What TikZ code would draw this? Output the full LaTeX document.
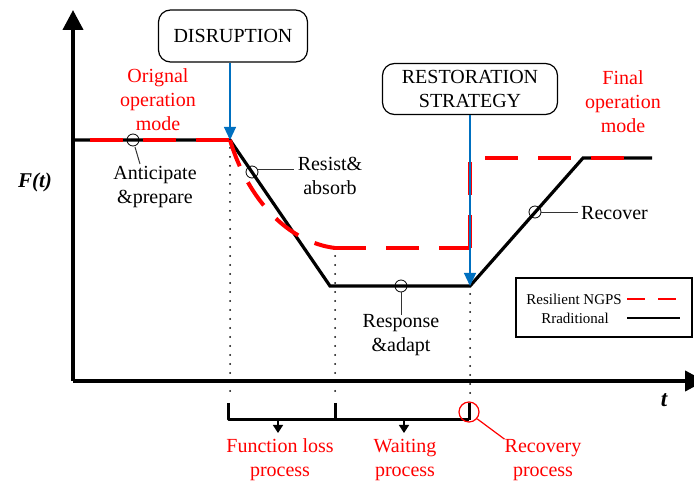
\documentclass[tikz,border=0pt]{standalone}
\usepackage{fontspec}
\setmainfont{Liberation Serif}
\usetikzlibrary{arrows.meta}
\definecolor{myblue}{RGB}{0,112,192}
\definecolor{myred}{RGB}{255,0,0}
\begin{document}
\begin{tikzpicture}[x=1pt,y=-1pt,
  lbl/.style={font=\fontsize{20}{24}\selectfont, align=center, inner sep=0pt},
  redlbl/.style={lbl, text=myred},
  boxnode/.style={draw, line width=1.2pt, rounded corners=12pt, lbl},
  axisline/.style={line width=4pt, -{Triangle[length=20pt,width=20pt]}},
  trad/.style={line width=3.2pt},
  resil/.style={myred, line width=4pt, dash pattern=on 33pt off 20pt},
  dotline/.style={line width=2pt, line cap=round, dash pattern=on 0pt off 9pt},
  bluearrow/.style={myblue, line width=1.2pt, -{Triangle[length=13pt,width=12pt]}},
  callout/.style={line width=0.8pt},
  leader/.style={line width=1pt, black!80},
  bracketline/.style={line width=3pt},
  smallarrow/.style={line width=1.5pt, -{Triangle[length=8pt,width=10pt]}}
]
\useasboundingbox (0,0) rectangle (694,486);

% key points
\coordinate (o) at (73,381);
\coordinate (ytip) at (73,10);
\coordinate (xtip) at (705,381);
\coordinate (p0) at (73,140);
\coordinate (p1) at (230,140);
\coordinate (p2) at (330,286);
\coordinate (p3) at (470,286);
\coordinate (p4) at (583,158);
\coordinate (p5) at (652,158);
\coordinate (r0) at (90,140);
\coordinate (r2) at (335,248);
\coordinate (r3) at (333,248);
\coordinate (r4) at (470,248);
\coordinate (r5) at (470,158);
\coordinate (r6) at (485,158);
\coordinate (r7) at (630,158);

% axes
\draw[axisline] (o) -- (ytip);
\draw[axisline] (o) -- (xtip);
\node[font=\fontsize{21}{24}\selectfont\bfseries\itshape] (fl) at (35,182) {F(t)};
\node[font=\fontsize{23}{24}\selectfont\bfseries\itshape] (tl) at (664,400) {t};

% dotted verticals
\coordinate (d1t) at (230,148);
\coordinate (d1b) at (230,394);
\coordinate (d2t) at (335,256);
\coordinate (d2b) at (335,394);
\coordinate (d3t) at (470,294);
\coordinate (d3b) at (470,394);
\draw[dotline] (d1t) -- (d1b);
\draw[dotline] (d2t) -- (d2b);
\draw[dotline] (d3t) -- (d3b);

% callout markers
\coordinate (m1) at (133,140);
\coordinate (m2) at (252,172);
\coordinate (m3) at (401,286);
\coordinate (m4) at (535,212);
\draw[callout] (m1) circle[radius=6];
\draw[callout] (m2) circle[radius=6];
\draw[callout] (m3) circle[radius=6];
\draw[callout] (m4) circle[radius=6];

% traditional curve
\draw[trad] (p0) -- (p1) -- (p2) -- (p3) -- (p4) -- (p5);

% resilient curve
\draw[resil] (r0) -- (p1);
\draw[resil, dash pattern=on 28pt off 18pt] (p1) .. controls (248,200) and (288,242) .. (r2);
\draw[resil] (r3) -- (r4);
\draw[resil] (r4) -- (r5);
\draw[resil] (r6) -- (r7);

% labels with leaders
\node[lbl] (ant) at (155,187) {Anticipate\\\&prepare};
\coordinate (l1a) at (135,147);
\coordinate (l1b) at (140,164);
\draw[leader] (l1a) -- (l1b);
\node[lbl] (res) at (330,176) {Resist\&\\absorb};
\coordinate (l2a) at (258,170);
\coordinate (l2b) at (294,170);
\draw[leader] (l2a) -- (l2b);
\node[lbl] (rsp) at (401,335) {Response\\\&adapt};
\coordinate (l3a) at (401,292);
\coordinate (l3b) at (401,315);
\draw[leader] (l3a) -- (l3b);
\node[lbl, anchor=west] (rec) at (581,213) {Recover};
\coordinate (l4a) at (541,213);
\coordinate (l4b) at (578,213);
\draw[leader] (l4a) -- (l4b);

\node[redlbl] (orig) at (158,100) {Orignal\\operation\\mode};
\node[redlbl] (fin) at (623,102) {Final\\operation\\mode};

% event boxes
\node[boxnode, minimum width=149pt, minimum height=52pt] (dis) at (233,36) {DISRUPTION};
\draw[bluearrow] (dis.south -| p1) -- (p1);
\node[boxnode, minimum width=175pt, minimum height=51pt] (rst) at (470,89) {RESTORATION\\STRATEGY};
\draw[bluearrow] (rst.south -| p3) -- (p3);

% bracket
\coordinate (b1t) at (228,403);
\coordinate (b1b) at (228,420);
\coordinate (b2t) at (335,403);
\coordinate (b2b) at (335,420);
\coordinate (b3t) at (469,403);
\coordinate (b3b) at (469,420);
\draw[bracketline, line join=round] (b1t) -- (b1b) -- (b3b);
\draw[bracketline] (b2t) -- (b2b);
\draw[bracketline] (b3t) -- (b3b);
\coordinate (a1s) at (278,420);
\coordinate (a1e) at (278,433);
\coordinate (a2s) at (404,420);
\coordinate (a2e) at (404,433);
\draw[smallarrow] (a1s) -- (a1e);
\draw[smallarrow] (a2s) -- (a2e);
\node[myred, draw, line width=1.2pt, circle, minimum size=20pt, inner sep=0pt] (rc) at (469,412) {};
\node[redlbl] (flp) at (280,460) {Function loss\\process};
\node[redlbl] (wtp) at (405,460) {Waiting\\process};
\node[redlbl] (rcp) at (543,460) {Recovery\\process};
\draw[myred, line width=1.2pt] (rc.-40) -- (rcp.north west);

% legend
\node[draw, line width=1.3pt, minimum width=176pt, minimum height=59pt, inner sep=0pt] (leg) at (604,307.5) {};
\node[font=\fontsize{15}{18}\selectfont, anchor=east, inner sep=0pt] (lg1) at (622,299) {Resilient NGPS};
\node[font=\fontsize{15}{18}\selectfont, inner sep=0pt] (lg2) at (575,318) {Rraditional};
\coordinate (s1a) at (627,299);
\coordinate (s1b) at (680,299);
\coordinate (s2a) at (627,318);
\coordinate (s2b) at (680,318);
\draw[myred, line width=2.5pt, dash pattern=on 18pt off 13pt] (s1a) -- (s1b);
\draw[line width=2.5pt] (s2a) -- (s2b);
\end{tikzpicture}
\end{document}
